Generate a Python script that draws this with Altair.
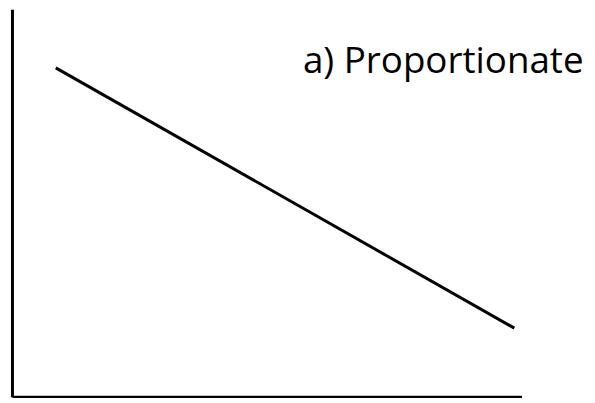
import altair as alt
import pandas as pd

# Line endpoints (abstract units)
line_x = [1, 10]
line_y = [9, 3]

label_text = ["a) Proportionate"]
label_x = [5.85]
label_y = [8.88]

x_domain = [0.14, 10.14]
y_domain = [1.42, 10.35]

line_df = pd.DataFrame({"x": line_x, "y": line_y})
label_df = pd.DataFrame({"x": label_x, "y": label_y, "t": label_text})

axis_style = dict(labels=False, ticks=False, grid=False, title=None,
                  domainColor="black", domainWidth=3)

xs = alt.Scale(domain=x_domain, nice=False, zero=False)
ys = alt.Scale(domain=y_domain, nice=False, zero=False)

line = alt.Chart(line_df).mark_line(color="black", strokeWidth=3).encode(
    x=alt.X("x:Q", scale=xs, axis=alt.Axis(**axis_style)),
    y=alt.Y("y:Q", scale=ys, axis=alt.Axis(**axis_style)),
)

label = alt.Chart(label_df).mark_text(
    align="left", baseline="alphabetic", font="Open Sans", fontSize=37, color="black"
).encode(
    x=alt.X("x:Q", scale=xs),
    y=alt.Y("y:Q", scale=ys),
    text="t:N",
)

chart = alt.layer(line, label).properties(
    width=513, height=390,
    autosize=alt.AutoSizeParams(type="none"),
    padding={"left": 4, "top": 0, "right": 66, "bottom": 0},
    background="white",
).configure_view(stroke=None)

chart.save("out.html", embed_options={"renderer": "svg", "actions": False})
